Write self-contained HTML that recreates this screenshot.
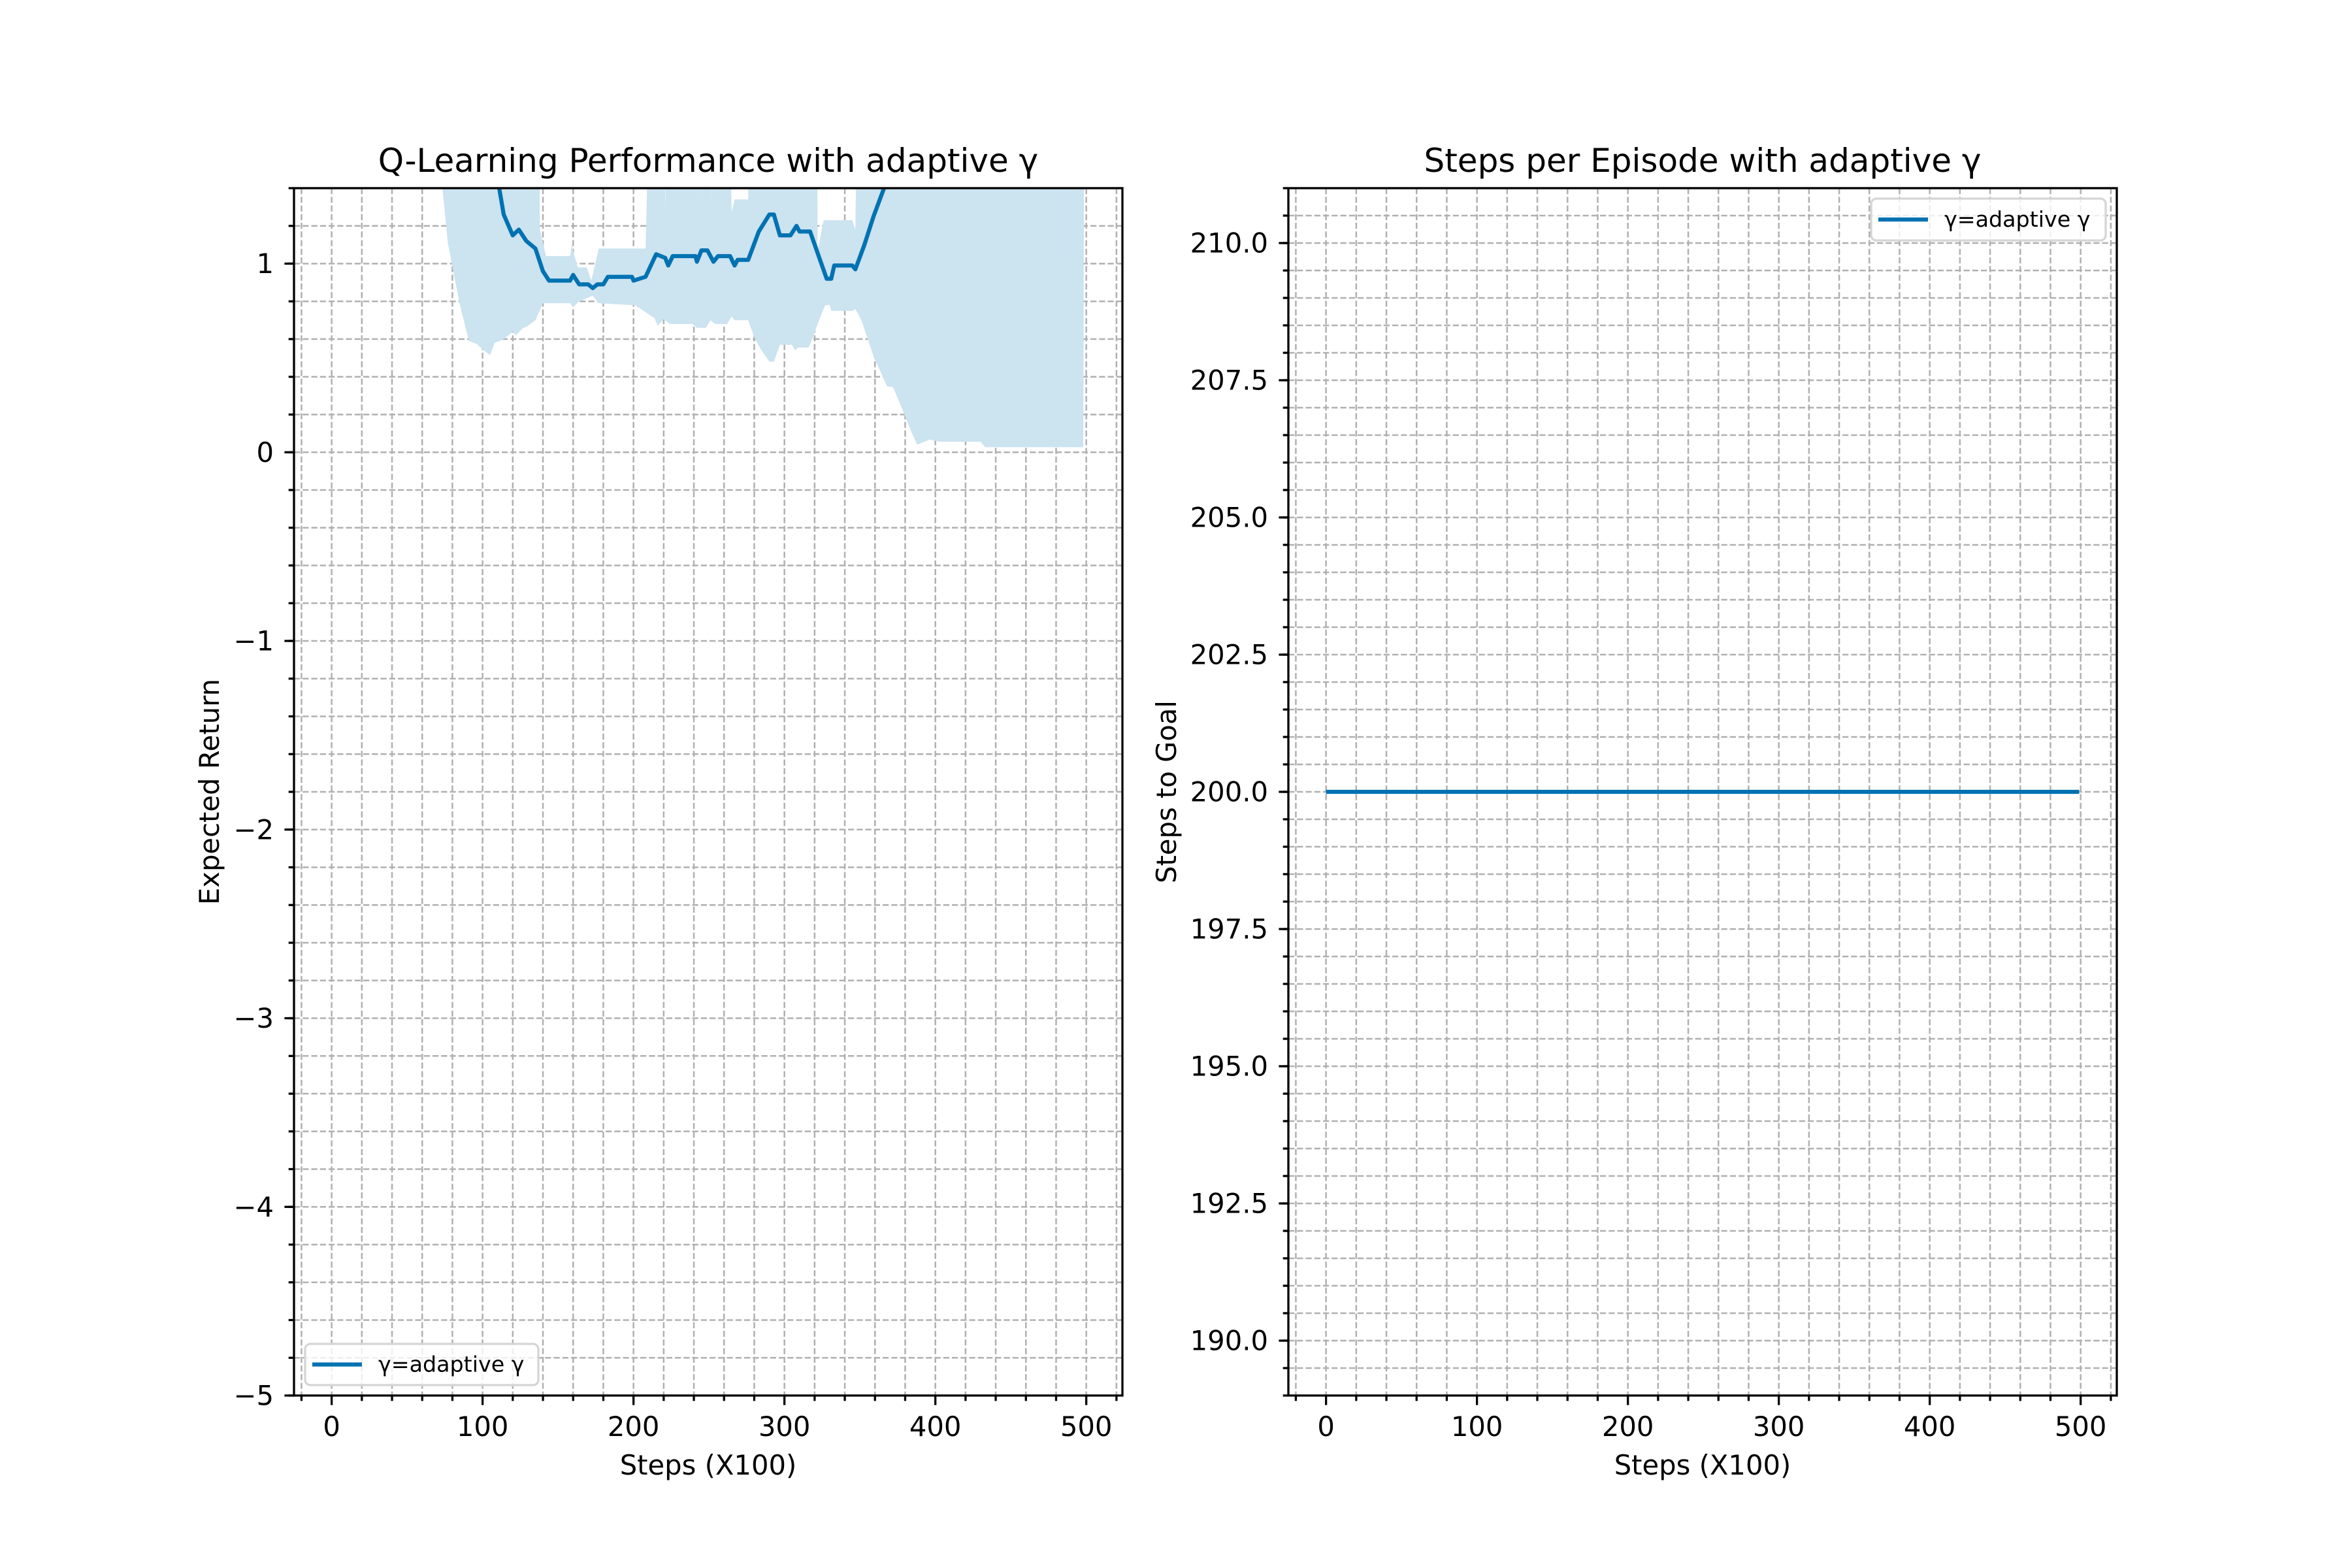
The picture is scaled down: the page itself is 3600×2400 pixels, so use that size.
<!DOCTYPE html>
<html><head><meta charset="utf-8"><style>
html,body{margin:0;padding:0;background:#fff}
svg{display:block}
text{font-family:"DejaVu Sans","Liberation Sans",sans-serif;fill:#000}
</style></head><body>
<svg id="fig" xmlns="http://www.w3.org/2000/svg" width="3600" height="2400" viewBox="0 0 3600 2400">
<rect width="3600" height="2400" fill="#fff"/>
</svg>
<script>
// Left chart data
const meanX = [0,111,114,120,124,129,135,140,144,158,160,164,170,173,176,180,183,199,200,208,215,221,223,226,241,242,245,249,253,256,264,267,269,276,283,290,293,297,304,308,310,317,328,331,333,345,347,353,359,366,380,420,460,499];
const meanY = [2.6,1.40,1.26,1.15,1.18,1.12,1.08,0.96,0.91,0.91,0.94,0.89,0.89,0.87,0.89,0.89,0.93,0.93,0.91,0.93,1.05,1.03,0.99,1.04,1.04,1.01,1.07,1.07,1.01,1.04,1.04,0.99,1.02,1.02,1.17,1.26,1.26,1.15,1.15,1.20,1.17,1.17,0.92,0.92,0.99,0.99,0.97,1.10,1.25,1.40,1.6,1.7,1.7,1.7];
const upperX = [0,137,138,142,158,159,163,169,172,177,199,208,214,219,221,223,225,241,243,245,249,252,253,256,262,265,267,276,278,321,322,326,331,345,347,350,499];
const upperY = [3.0,3.0,1.18,1.04,1.04,1.10,0.98,0.98,0.91,1.08,1.08,1.08,3.0,3.0,1.28,3.0,3.0,3.0,1.34,3.0,3.0,1.34,3.0,3.0,3.0,1.27,1.34,1.34,3.0,3.0,1.07,1.23,1.23,1.23,1.18,3.0,3.0];
const lowerX = [0,73,77,81,85,91,96,100,105,108,113,118,120,122,127,129,135,140,158,160,164,170,173,177,199,201,214,216,220,224,239,242,248,251,254,262,265,267,276,280,284,290,293,297,305,307,309,316,318,322,327,330,331,345,347,351,359,368,372,378,384,388,396,403,430,433,498];
const lowerY = [3.0,1.43,1.11,0.94,0.78,0.59,0.575,0.545,0.515,0.58,0.595,0.625,0.64,0.62,0.66,0.665,0.70,0.79,0.79,0.77,0.80,0.82,0.83,0.79,0.78,0.78,0.71,0.67,0.705,0.68,0.68,0.66,0.66,0.70,0.68,0.68,0.72,0.70,0.70,0.61,0.55,0.48,0.48,0.57,0.57,0.54,0.555,0.555,0.59,0.68,0.78,0.78,0.75,0.75,0.76,0.70,0.51,0.35,0.345,0.23,0.11,0.04,0.067,0.056,0.056,0.027,0.027];
const leftYTicks = [-5,-4,-3,-2,-1,0,1];
const leftYTickLabels = ["\u22125","\u22124","\u22123","\u22122","\u22121","0","1"];
const xTicks = [0,100,200,300,400,500];
const xTickLabels = ["0","100","200","300","400","500"];
// Right chart data
const stepsX = [0,499];
const stepsY = [200,200];
const rightYTicks = [190,192.5,195,197.5,200,202.5,205,207.5,210];
const rightYTickLabels = ["190.0","192.5","195.0","197.5","200.0","202.5","205.0","207.5","210.0"];

const NS="http://www.w3.org/2000/svg";
const fig=document.getElementById('fig');
function mk(tag,attrs,parent){const e=document.createElementNS(NS,tag);for(const k in attrs)e.setAttribute(k,attrs[k]);(parent||fig).appendChild(e);return e;}

function axes(o){
  const {x0,x1,y0,y1,xmin,xmax,ymin,ymax,id}=o;
  const sx=v=>x0+(v-xmin)/(xmax-xmin)*(x1-x0);
  const sy=v=>y1-(v-ymin)/(ymax-ymin)*(y1-y0);
  const g=mk('g',{});
  
  
  const cp=mk('clipPath',{id:id+'-clip'},g);
  mk('rect',{x:x0,y:y0,width:x1-x0,height:y1-y0},cp);
  const grid=mk('g',{stroke:'#b0b0b0','stroke-width':2.5,'stroke-dasharray':'9.25,4','clip-path':'url(#'+id+'-clip)'},g);
  
  
  for(let v=-20;v<=520;v+=20){const X=sx(v);mk('line',{x1:X,x2:X,y1:y0,y2:y1},grid);}
  const step=o.yminor;
  for(let k=Math.ceil(ymin/step-1e-9);k*step<=ymax+1e-9;k++){const Y=sy(k*step);mk('line',{x1:x0,x2:x1,y1:Y,y2:Y},grid);}
  return {sx,sy,g};
}
function finishAxes(o,ax,yTicks,yLabels){
  const {x0,x1,y0,y1,id}=o;const {sx,sy,g}=ax;
  const tk=mk('g',{stroke:'#000','stroke-width':3.3},g);
  for(let v=-20;v<=520;v+=20){const X=sx(v);const major=(v%100===0);mk('line',{x1:X,x2:X,y1:y1,y2:y1+(major?14.6:8.3)},tk);}
  const st=o.yminor;
  for(let k=Math.ceil(o.ymin/st-1e-9);k*st<=o.ymax+1e-9;k++){const Y=sy(k*st);mk('line',{x1:x0,x2:x0-8.3,y1:Y,y2:Y},tk);}
  yTicks.forEach((v,i)=>{const Y=sy(v);mk('line',{x1:x0,x2:x0-14.6,y1:Y,y2:Y},tk);
    const t=mk('text',{x:x0-31,y:Y+14.5,'text-anchor':'end','font-size':41.7},g);t.textContent=yLabels[i];
    
    });
  xTicks.forEach((v,i)=>{const t=mk('text',{x:sx(v),y:y1+62,'text-anchor':'middle','font-size':41.7},g);t.textContent=xTickLabels[i];
    
    });
  const sp=mk('rect',{x:x0,y:y0,width:x1-x0,height:y1-y0,fill:'none',stroke:'#000','stroke-width':3.3},g);
  
  
  const xl=mk('text',{x:(x0+x1)/2,y:2257,'text-anchor':'middle','font-size':41.7},g);xl.textContent='Steps (X100)';
  
  
  const yl=mk('text',{x:0,y:0,'text-anchor':'middle','font-size':41.7,transform:'translate('+o.ylx+','+((y0+y1)/2)+') rotate(-90)'},g);yl.textContent=o.ylabel;
  
  
  const ti=mk('text',{x:(x0+x1)/2,y:263,'text-anchor':'middle','font-size':50},g);ti.textContent=o.title;
  
  
}
function legend(x,y,w,h){
  const g=mk('g',{});
  
  
  mk('rect',{x:x,y:y,width:w,height:h,rx:8,fill:'#fff','fill-opacity':0.8,stroke:'#d5d5d5','stroke-width':3.3},g);
  mk('line',{x1:x+11,x2:x+87,y1:y+h/2,y2:y+h/2,stroke:'#0072B2','stroke-width':6.25},g);
  const t=mk('text',{x:x+112,y:y+h/2+11,'font-size':33.3},g);t.textContent='\u03b3=adaptive \u03b3';
  
  
}

// LEFT
const L={x0:450,x1:1718,y0:288,y1:2136,xmin:-24.95,xmax:523.95,ymin:-5,ymax:1.40,yminor:0.2,id:'left',ylabel:'Expected Return',ylx:335,title:'Q-Learning Performance with adaptive \u03b3'};
const la=axes(L);
let d='';
upperX.forEach((v,i)=>{d+=(i?'L':'M')+la.sx(v).toFixed(1)+','+la.sy(upperY[i]).toFixed(1);});
for(let i=lowerX.length-1;i>=0;i--){d+='L'+la.sx(lowerX[i]).toFixed(1)+','+la.sy(lowerY[i]).toFixed(1);}
const band=mk('path',{d:d+'Z',fill:'#cce3f0','clip-path':'url(#left-clip)'},la.g);


const mpts=meanX.map((v,i)=>la.sx(v).toFixed(1)+','+la.sy(meanY[i]).toFixed(1)).join(' ');
const ml=mk('polyline',{points:mpts,fill:'none',stroke:'#0072B2','stroke-width':6.25,'stroke-linejoin':'round','clip-path':'url(#left-clip)'},la.g);


finishAxes(L,la,leftYTicks,leftYTickLabels);
legend(467,2057,357,63);

// RIGHT
const R={x0:1972,x1:3240,y0:288,y1:2136,xmin:-24.95,xmax:523.95,ymin:189,ymax:211,yminor:0.5,id:'right',ylabel:'Steps to Goal',ylx:1800,title:'Steps per Episode with adaptive \u03b3'};
const ra=axes(R);
const spts=stepsX.map((v,i)=>ra.sx(v).toFixed(1)+','+ra.sy(stepsY[i]).toFixed(1)).join(' ');
const sl=mk('polyline',{points:spts,fill:'none',stroke:'#0072B2','stroke-width':6.25,'clip-path':'url(#right-clip)'},ra.g);


finishAxes(R,ra,rightYTicks,rightYTickLabels);
legend(2864,304,359,64);
</script>
</body></html>
